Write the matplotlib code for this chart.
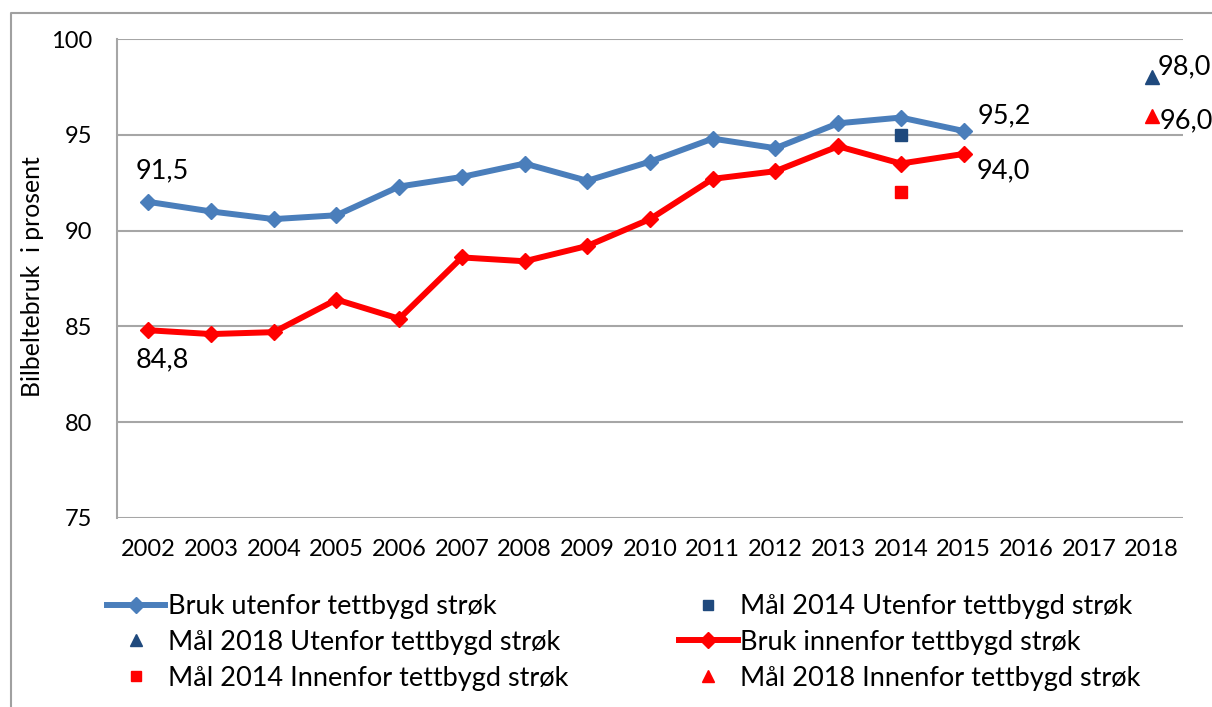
import matplotlib
matplotlib.use("Agg")
import matplotlib.pyplot as plt
from matplotlib.lines import Line2D

plt.rcParams['font.family'] = ['Lato', 'DejaVu Sans']

years = list(range(2002, 2016))
bruk_utenfor = [91.5, 91.0, 90.6, 90.8, 92.3, 92.8, 93.5, 92.6, 93.6, 94.8, 94.3, 95.6, 95.9, 95.2]
bruk_innenfor = [84.8, 84.6, 84.7, 86.4, 85.4, 88.6, 88.4, 89.2, 90.6, 92.7, 93.1, 94.4, 93.5, 94.0]
maal_2014_utenfor = 95.0
maal_2014_innenfor = 92.0
maal_2018_utenfor = 98.0
maal_2018_innenfor = 96.0
xticks = list(range(2002, 2019))
yticks = [75, 80, 85, 90, 95, 100]

BLUE = '#4A7EBB'
DARK_BLUE = '#1F497D'
RED = '#FF0000'
GRID = '#A6A6A6'
FS_TICK = 17
FS_LABEL = 19.5

W, H = 1212, 707
fig = plt.figure(figsize=(W / 100, H / 100), dpi=100)
ax = fig.add_axes([117 / W, 1 - 518 / H, (1183 - 117) / W, (518 - 39) / H])

ax.plot(years, bruk_utenfor, color=BLUE, lw=4.3, marker='D', ms=8,
        solid_joinstyle='round', zorder=3)
ax.plot(years, bruk_innenfor, color=RED, lw=4.3, marker='D', ms=8,
        solid_joinstyle='round', zorder=3)
ax.plot([2014], [maal_2014_utenfor], ls='none', marker='s', ms=8, color=DARK_BLUE, zorder=4)
ax.plot([2014], [maal_2014_innenfor], ls='none', marker='s', ms=8, color=RED, zorder=4)
ax.plot([2018], [maal_2018_utenfor], ls='none', marker='^', ms=10, color=DARK_BLUE, zorder=4)
ax.plot([2018], [maal_2018_innenfor], ls='none', marker='^', ms=10, color=RED, zorder=4)

def fmt(v):
    return f"{v:.1f}".replace('.', ',')

def label(x, y, dx, dy):
    ax.annotate(fmt(y), (x, y), xytext=(dx, -dy), textcoords='offset pixels',
                ha='center', va='center', fontsize=FS_LABEL, color='black', zorder=5)

label(2002, bruk_utenfor[0], 14, -31)
label(2002, bruk_innenfor[0], 14, 30)
label(2015, bruk_utenfor[-1], 41, -15)
label(2015, bruk_innenfor[-1], 40, 17)
label(2018, maal_2018_utenfor, 33, -11)
label(2018, maal_2018_innenfor, 35, 5)

ax.set_xlim(2001.5, 2018.5)
ax.set_ylim(75, 100)
ax.set_xticks(xticks)
ax.set_xticklabels([str(t) for t in xticks])
ax.set_yticks(yticks)
ax.yaxis.grid(True, color=GRID, lw=1.5)
ax.set_axisbelow(True)
for s in ['top', 'right', 'bottom']:
    ax.spines[s].set_visible(False)
ax.spines['left'].set_color(GRID)
ax.spines['left'].set_linewidth(1.5)
ax.tick_params(axis='y', length=0, pad=18, labelsize=FS_TICK)
ax.tick_params(axis='x', length=0, pad=15, labelsize=FS_TICK)

fig.text(33 / W, 1 - 277 / H, 'Bilbeltebruk  i prosent', rotation=90,
         ha='center', va='center', fontsize=17.8)

# outer chart frame
fig.add_artist(Line2D([11 / W, 11 / W, 1.0], [0.0, 1 - 13 / H, 1 - 13 / H],
                      transform=fig.transFigure, color='#A0A0A0', lw=1.5))

h_bu = Line2D([], [], color=BLUE, lw=4.3, marker='D', ms=8)
h_bi = Line2D([], [], color=RED, lw=4.3, marker='D', ms=8)
h_14u = Line2D([], [], ls='none', marker='s', ms=7, color=DARK_BLUE)
h_14i = Line2D([], [], ls='none', marker='s', ms=7, color=RED)
h_18u = Line2D([], [], ls='none', marker='^', ms=8, color=DARK_BLUE)
h_18i = Line2D([], [], ls='none', marker='^', ms=8, color=RED)

handles = [h_bu, h_18u, h_14i, h_14u, h_bi, h_18i]
labels = ['Bruk utenfor tettbygd strøk', 'Mål 2018 Utenfor tettbygd strøk',
          'Mål 2014 Innenfor tettbygd strøk', 'Mål 2014 Utenfor tettbygd strøk',
          'Bruk innenfor tettbygd strøk', 'Mål 2018 Innenfor tettbygd strøk']
fig.legend(handles, labels, ncol=2, loc='upper left',
           bbox_to_anchor=(107 / W, 1 - 594 / H), frameon=False, fontsize=FS_LABEL,
           handlelength=2.15, handletextpad=0.1, columnspacing=4.1,
           labelspacing=0.4, borderpad=0, borderaxespad=0)

fig.savefig('out.png', dpi=100)
